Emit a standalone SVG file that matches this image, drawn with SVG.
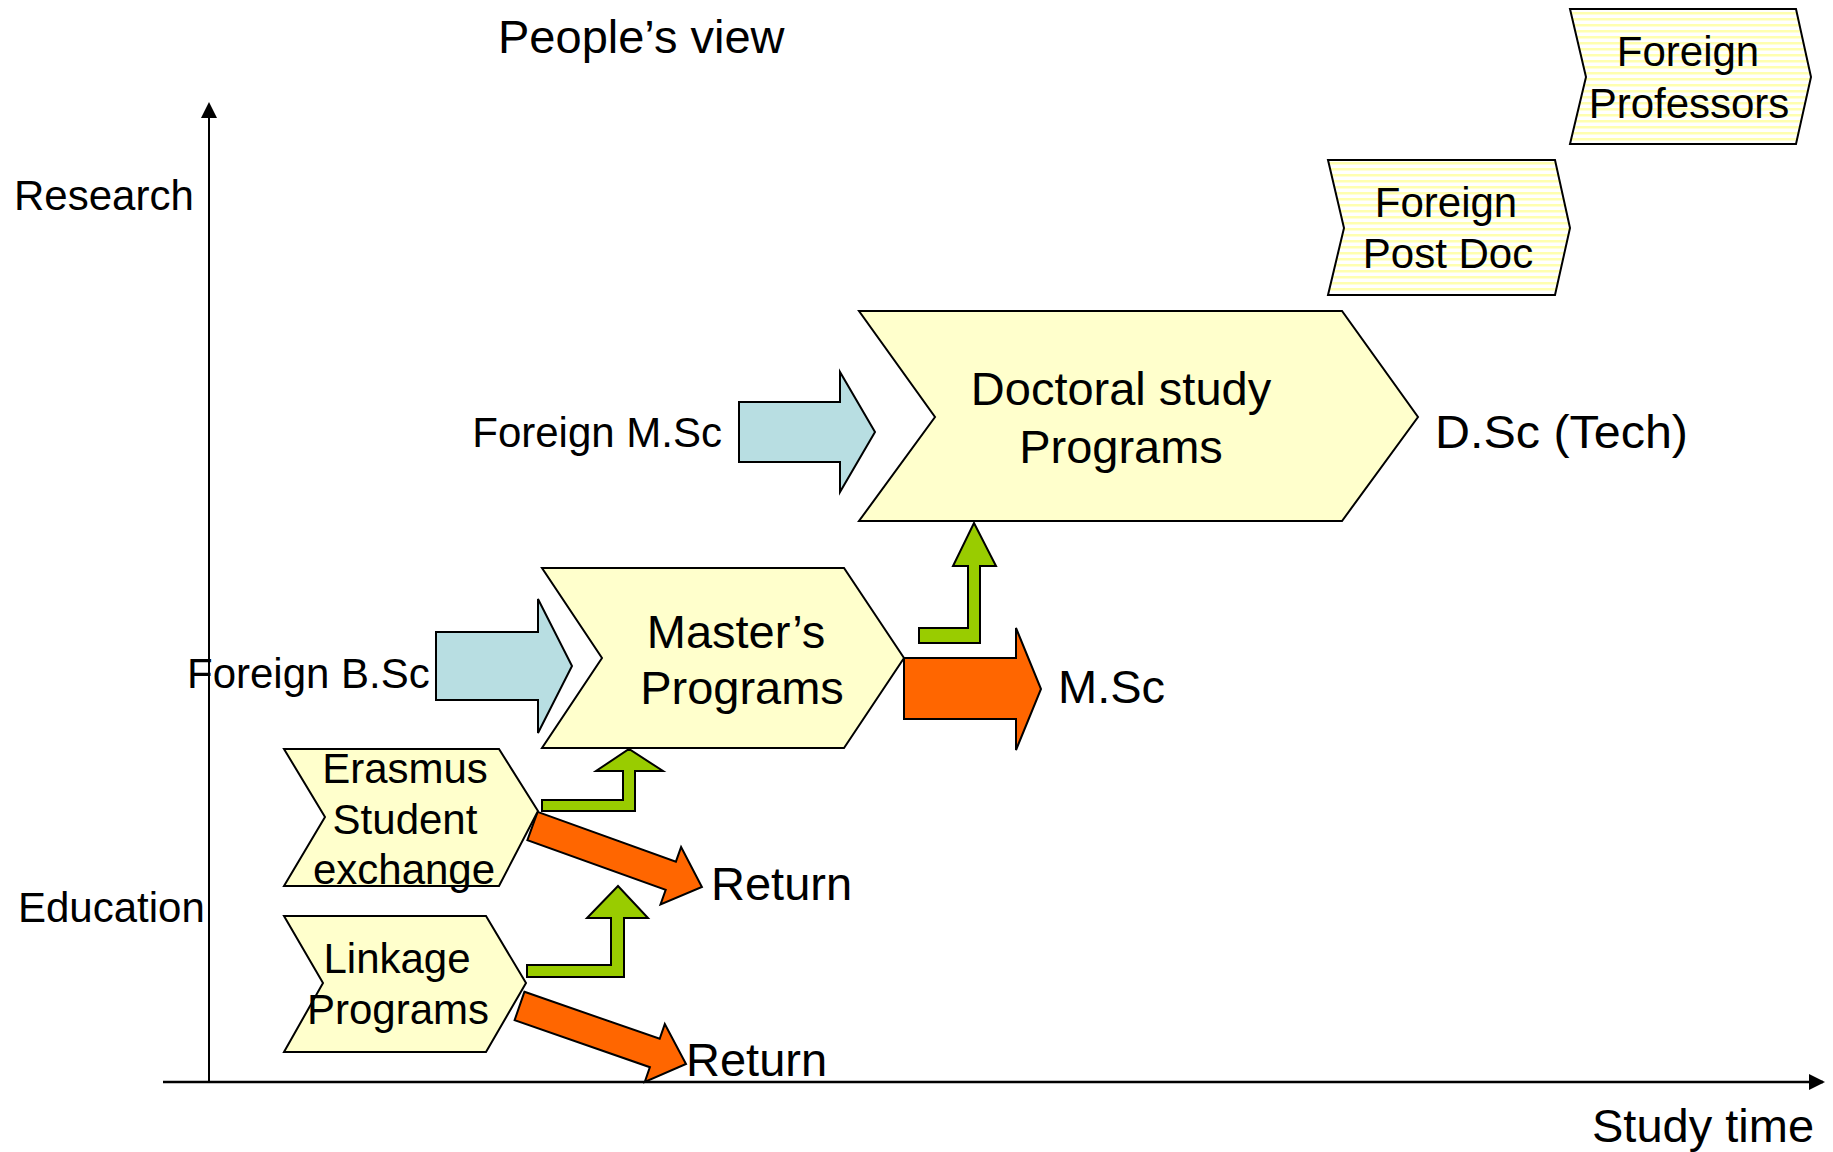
<svg xmlns="http://www.w3.org/2000/svg" width="1833" height="1152" viewBox="0 0 1833 1152">
<defs>
<style>
text{font-family:"Liberation Sans",Arial,sans-serif;fill:#000}
.s42{font-size:42px}
.s47{font-size:47px}
.mid{text-anchor:middle}
.chev{fill:#FFFFCC;stroke:#000;stroke-width:2;stroke-linejoin:miter}
.striped{fill:url(#stripes);stroke:#000;stroke-width:2}
.blue{fill:#B8DEE2;stroke:#000;stroke-width:2}
.orange{fill:#FF6600;stroke:#000;stroke-width:2}
.green{fill:#99CC00;stroke:#000;stroke-width:2}
.axis{stroke:#000;stroke-width:2.5;fill:none}
</style>
<pattern id="stripes" patternUnits="userSpaceOnUse" width="8" height="6">
<rect width="8" height="6" fill="#FFFFFF"/>
<rect y="0" width="8" height="2.5" fill="#FFFFB0"/>
</pattern>
<marker id="axhead" markerWidth="16" markerHeight="16" refX="14" refY="8" orient="auto" markerUnits="userSpaceOnUse">
<path d="M0,0 L16,8 L0,16 Z" fill="#000"/>
</marker>
</defs>
<rect width="1833" height="1152" fill="#FFFFFF"/>

<g id="axes">
<line class="axis" x1="209" y1="1082" x2="209" y2="104" marker-end="url(#axhead)" style="stroke-width:2"/>
<line class="axis" x1="163" y1="1082" x2="1823" y2="1082" marker-end="url(#axhead)"/>
<text class="s47" x="498" y="53">People’s view</text>
<text class="s42" x="14" y="210">Research</text>
<text class="s42" x="18" y="922">Education</text>
<text class="s47" x="1592" y="1142">Study time</text>
</g>

<g id="connectors">
<path id="arrow-foreign-msc" class="blue" d="M739,402 L840,402 L840,372 L875,432 L840,492 L840,462 L739,462 Z"/>
<path id="arrow-foreign-bsc" class="blue" d="M436,632 L538,632 L538,599 L572,666 L538,733 L538,700 L436,700 Z"/>
<path id="arrow-masters-msc" class="orange" d="M904,658 L1016,658 L1016,628 L1041,689 L1016,750 L1016,719 L904,719 Z"/>
<path id="arrow-masters-doctoral" class="green" d="M919,628 L968,628 L968,566 L953,566 L974,523 L996,566 L980,566 L980,643 L919,643 Z"/>
<path id="arrow-erasmus-masters" class="green" d="M542,800 L623,800 L623,771 L596,771 L629,749 L663,771 L635,771 L635,811 L542,811 Z"/>
<path id="arrow-linkage-up" class="green" d="M527,965 L611,965 L611,918 L587,918 L618,886 L648,918 L624,918 L624,977 L527,977 Z"/>
<path id="arrow-erasmus-return" class="orange" d="M537.6,811.9 L675.9,861.7 L681.1,847.1 L701.9,887 L660.5,904.5 L665.7,889.9 L527.4,840.1 Z"/>
<path id="arrow-linkage-return" class="orange" d="M524.4,991.8 L659.7,1038.8 L664.8,1024.1 L686,1064 L644.8,1081.9 L649.9,1067.2 L514.6,1020.2 Z"/>
</g>

<g id="node-foreign-professors">
<path class="striped" d="M1570,9 L1796,9 L1811,77 L1796,144 L1570,144 L1586,77 Z"/>
<text class="s42 mid" x="1688" y="66">Foreign</text>
<text class="s42 mid" x="1689" y="118">Professors</text>
</g>

<g id="node-foreign-postdoc">
<path class="striped" d="M1328,160 L1555,160 L1570,228 L1555,295 L1328,295 L1344,228 Z"/>
<text class="s42 mid" x="1446" y="217">Foreign</text>
<text class="s42 mid" x="1448" y="268">Post Doc</text>
</g>

<g id="node-doctoral">
<path class="chev" d="M859,311 L1342,311 L1418,417 L1342,521 L859,521 L935,417 Z"/>
<text class="s47 mid" x="1121" y="405">Doctoral study</text>
<text class="s47 mid" x="1121" y="463">Programs</text>
</g>

<g id="node-dsc">
<text class="s47" x="1435" y="448" textLength="253" lengthAdjust="spacingAndGlyphs">D.Sc (Tech)</text>
</g>

<g id="node-foreign-msc">
<text class="s42" x="722" y="447" text-anchor="end">Foreign M.Sc</text>
</g>

<g id="node-masters">
<path class="chev" d="M542,568 L844,568 L904,658 L844,748 L542,748 L602,658 Z"/>
<text class="s47 mid" x="736" y="648">Master’s</text>
<text class="s47 mid" x="742" y="704">Programs</text>
</g>

<g id="node-msc">
<text class="s47" x="1058" y="703">M.Sc</text>
</g>

<g id="node-foreign-bsc">
<text class="s42" x="187" y="688">Foreign B.Sc</text>
</g>

<g id="node-erasmus">
<path class="chev" d="M284,749 L499,749 L538,811 L499,886 L284,886 L325,817 Z"/>
<text class="s42 mid" x="405" y="783">Erasmus</text>
<text class="s42 mid" x="405" y="834">Student</text>
<text class="s42 mid" x="404" y="884">exchange</text>
</g>

<g id="node-linkage">
<path class="chev" d="M284,916 L486,916 L526,983 L486,1052 L284,1052 L323,983 Z"/>
<text class="s42 mid" x="397" y="973">Linkage</text>
<text class="s42 mid" x="398" y="1024">Programs</text>
</g>

<g id="node-return-1">
<text class="s47" x="711" y="900">Return</text>
</g>

<g id="node-return-2">
<text class="s47" x="686" y="1076">Return</text>
</g>
</svg>
